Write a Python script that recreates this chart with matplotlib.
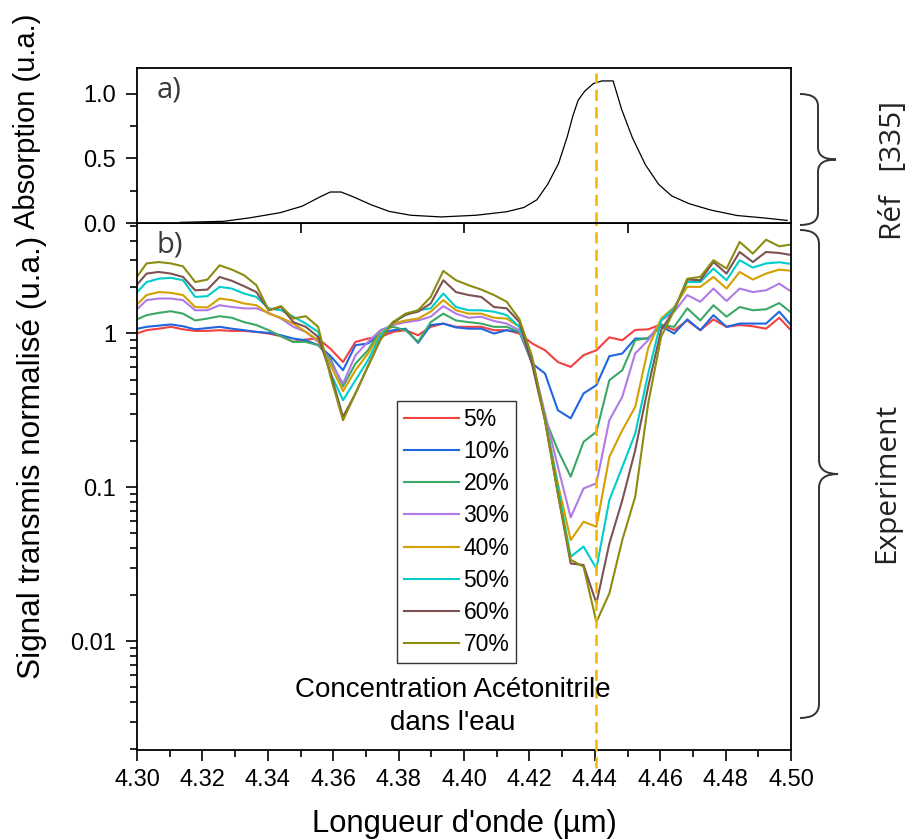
import matplotlib
matplotlib.use("Agg")
import matplotlib.pyplot as plt
import numpy as np
from matplotlib.path import Path
from matplotlib.patches import PathPatch
from matplotlib.ticker import MultipleLocator, LogLocator, NullFormatter, FixedLocator

# ---- data ----
# sampling of the measured spectra: 2 cm-1 steps, converted to µm
wavenumber = np.array([
    2326, 2324, 2322, 2320, 2318, 2316, 2314, 2312, 2310, 2308,
    2306, 2304, 2302, 2300, 2298, 2296, 2294, 2292, 2290, 2288,
    2286, 2284, 2282, 2280, 2278, 2276, 2274, 2272, 2270, 2268,
    2266, 2264, 2262, 2260, 2258, 2256, 2254, 2252, 2250, 2248,
    2246, 2244, 2242, 2240, 2238, 2236, 2234, 2232, 2230, 2228,
    2226, 2224, 2222,
])
wavelength = 1e4 / wavenumber

labels = ["5%", "10%", "20%", "30%", "40%", "50%", "60%", "70%"]
colors = ["#f54040", "#1f66e0", "#3ca865", "#b07ae6", "#d4a000",
          "#00cccc", "#7d5252", "#8c8c10"]

c05 = [0.985, 1.046, 1.07, 1.10, 1.06, 1.035, 1.035, 1.046, 1.035, 1.035,
       1.02, 0.995, 0.956, 0.878, 0.91, 0.923, 0.79, 0.65, 0.878, 0.923,
       0.946, 1.02, 1.046, 0.97, 1.10, 1.155, 1.10, 1.10, 1.10, 1.046,
       1.046, 0.995, 0.857, 0.775, 0.65, 0.604, 0.72, 0.775, 0.94, 0.90,
       1.05, 1.06, 1.14, 1.046, 1.21, 1.046, 1.23, 1.10, 1.13, 1.11,
       1.07, 1.26, 1.02]
c10 = [1.06, 1.10, 1.12, 1.14, 1.11, 1.06, 1.08, 1.10, 1.07, 1.046,
       1.02, 1.005, 0.97, 0.923, 0.90, 0.836, 0.71, 0.575, 0.836, 0.857,
       0.995, 1.046, 1.07, 0.865, 1.13, 1.155, 1.09, 1.07, 1.07, 0.995,
       1.046, 1.02, 0.635, 0.547, 0.316, 0.28, 0.406, 0.46, 0.709, 0.738,
       0.923, 0.923, 1.11, 0.995, 1.23, 1.046, 1.31, 1.10, 1.155, 1.155,
       1.155, 1.38, 1.10]
c20 = [1.21, 1.31, 1.355, 1.39, 1.34, 1.21, 1.245, 1.29, 1.26, 1.18,
       1.13, 1.046, 0.956, 0.878, 0.878, 0.836, 0.68, 0.45, 0.635, 0.775,
       1.046, 1.10, 1.046, 0.878, 1.18, 1.34, 1.21, 1.18, 1.155, 1.10,
       1.10, 1.02, 0.66, 0.28, 0.174, 0.117, 0.197, 0.229, 0.495, 0.575,
       0.90, 0.93, 1.13, 1.10, 1.45, 1.21, 1.52, 1.28, 1.48, 1.41,
       1.43, 1.57, 1.34]
c30 = [1.38, 1.64, 1.68, 1.68, 1.64, 1.41, 1.41, 1.52, 1.48, 1.45,
       1.45, 1.355, 1.245, 1.10, 1.02, 0.878, 0.65, 0.47, 0.72, 0.878,
       1.046, 1.13, 1.18, 1.21, 1.28, 1.50, 1.34, 1.26, 1.28, 1.20,
       1.155, 1.046, 0.66, 0.30, 0.136, 0.0636, 0.098, 0.106, 0.272, 0.386,
       0.74, 0.90, 1.21, 1.38, 1.77, 1.60, 1.95, 1.62, 1.95, 1.85,
       1.90, 2.10, 1.84]
c40 = [1.48, 1.77, 1.85, 1.83, 1.77, 1.48, 1.47, 1.68, 1.64, 1.56,
       1.52, 1.34, 1.26, 1.155, 1.02, 0.90, 0.62, 0.42, 0.575, 0.738,
       0.995, 1.155, 1.21, 1.245, 1.38, 1.64, 1.41, 1.34, 1.34, 1.26,
       1.245, 1.10, 0.64, 0.28, 0.106, 0.0453, 0.0596, 0.0553, 0.157, 0.234,
       0.332, 0.80, 1.245, 1.48, 2.00, 2.00, 2.32, 1.95, 2.50, 2.23,
       2.44, 2.59, 2.54]
c50 = [1.77, 2.15, 2.26, 2.29, 2.21, 1.72, 1.74, 2.00, 1.95, 1.81,
       1.72, 1.45, 1.41, 1.28, 1.155, 1.02, 0.55, 0.367, 0.495, 0.668,
       0.97, 1.18, 1.31, 1.41, 1.45, 1.81, 1.48, 1.41, 1.41, 1.38,
       1.31, 1.10, 0.65, 0.28, 0.10, 0.0353, 0.0411, 0.0296, 0.0824, 0.135,
       0.223, 0.547, 1.21, 1.45, 2.15, 2.15, 2.63, 2.21, 2.98, 2.67,
       2.84, 2.89, 2.81]
c60 = [1.98, 2.44, 2.50, 2.44, 2.32, 1.90, 1.92, 2.32, 2.19, 2.02,
       1.85, 1.41, 1.48, 1.18, 1.10, 0.946, 0.55, 0.286, 0.406, 0.61,
       0.91, 1.17, 1.32, 1.38, 1.56, 2.21, 1.85, 1.77, 1.72, 1.48,
       1.45, 1.18, 0.62, 0.27, 0.091, 0.0319, 0.0312, 0.0176, 0.043, 0.082,
       0.174, 0.45, 1.05, 1.41, 2.23, 2.21, 2.90, 2.44, 3.37, 2.90,
       3.37, 3.32, 3.21]
c70 = [2.21, 2.84, 2.90, 2.84, 2.72, 2.15, 2.23, 2.76, 2.59, 2.38,
       2.05, 1.41, 1.50, 1.245, 1.29, 1.10, 0.52, 0.272, 0.406, 0.61,
       0.91, 1.18, 1.34, 1.41, 1.72, 2.54, 2.21, 2.05, 1.92, 1.77,
       1.60, 1.23, 0.70, 0.27, 0.091, 0.0337, 0.0304, 0.0133, 0.0204, 0.0453,
       0.0866, 0.35, 0.95, 1.41, 2.26, 2.32, 2.98, 2.63, 3.92, 3.29,
       4.05, 3.67, 3.78]
series = [c05, c10, c20, c30, c40, c50, c60, c70]

# reference absorption spectrum (panel a)
ref_wl = [4.3132, 4.3265, 4.3345, 4.3438, 4.3505, 4.3558, 4.3591, 4.3624,
          4.3664, 4.3717, 4.3771, 4.3837, 4.3930, 4.4037, 4.4130, 4.4183,
          4.4223, 4.4256, 4.4289, 4.4316, 4.4333, 4.4349, 4.4369, 4.4396,
          4.4422, 4.4456, 4.4482, 4.4515, 4.4555, 4.4595, 4.4635, 4.4688,
          4.4755, 4.4835, 4.4914, 4.4988]
ref_abs = [0.005, 0.013, 0.04, 0.08, 0.13, 0.20, 0.24, 0.24,
           0.20, 0.14, 0.09, 0.06, 0.047, 0.06, 0.087, 0.12,
           0.18, 0.30, 0.46, 0.67, 0.83, 0.95, 1.02, 1.08,
           1.10, 1.10, 0.88, 0.66, 0.45, 0.30, 0.21, 0.15,
           0.10, 0.058, 0.04, 0.02]

peak_line = 4.4405

W, H = 917, 840
SANS = ["Liberation Sans", "DejaVu Sans"]
SEGOE = ["Open Sans", "DejaVu Sans"]
plt.rcParams["font.family"] = SANS


def px(x, y):
    return (x / W, 1 - y / H)


def brace(fig, x0, y_top, y_bot, x_tip, r=14, lw=1.4):
    # curly brace opening to the left, drawn in pixel coords
    xm = x0 + (x_tip - x0) * 0.5
    ym = (y_top + y_bot) / 2
    pts = [(x0, y_top), (xm, y_top), (xm, y_top + r),
           (xm, ym - r), (xm, ym), (x_tip, ym),
           (xm, ym), (xm, ym + r),
           (xm, y_bot - r), (xm, y_bot), (x0, y_bot)]
    codes = [Path.MOVETO, Path.CURVE3, Path.CURVE3,
             Path.LINETO, Path.CURVE3, Path.CURVE3,
             Path.CURVE3, Path.CURVE3,
             Path.LINETO, Path.CURVE3, Path.CURVE3]
    verts = [px(*p) for p in pts]
    fig.patches.append(PathPatch(Path(verts, codes), transform=fig.transFigure,
                                 fill=False, lw=lw, edgecolor="#333333"))


fig = plt.figure(figsize=(W / 100, H / 100), dpi=100)
ax_a = fig.add_axes([137 / W, 1 - 223 / H, (791 - 137) / W, (223 - 68) / H])
ax_b = fig.add_axes([137 / W, 1 - 750 / H, (791 - 137) / W, (750 - 223) / H])
ax_a.set_zorder(3)

for ax in (ax_a, ax_b):
    for sp in ax.spines.values():
        sp.set_linewidth(1.3)
    ax.tick_params(which="both", direction="out", width=1.2, labelsize=17,
                   colors="black")
    ax.tick_params(which="major", length=8)
    ax.tick_params(which="minor", length=5)
    ax.set_xlim(4.30, 4.50)

# ---- panel a: reference absorption ----
ax_a.plot(ref_wl, ref_abs, color="black", lw=0.9)
ax_a.set_ylim(0, 1.2)
ax_a.yaxis.set_major_locator(FixedLocator([0.0, 0.5, 1.0]))
ax_a.yaxis.set_minor_locator(FixedLocator([0.25, 0.75]))
ax_a.set_yticklabels(["0.0", "0.5", "1.0"])
ax_a.xaxis.set_major_locator(FixedLocator([4.35, 4.40, 4.45]))
ax_a.tick_params(axis="x", labelbottom=False, length=7)
ax_a.tick_params(axis="y", pad=7)
ax_a.axvline(peak_line, ymin=0, ymax=0.97, color="#f7b500", lw=1.8,
             dashes=(4.5, 2.5))
ax_a.text(0.03, 0.86, "a)", transform=ax_a.transAxes, fontsize=21,
          family=SEGOE, color="#3a3a3a", va="center")

# ---- panel b: measured transmission ----
for vals, lab, col in zip(series, labels, colors):
    ax_b.plot(wavelength, vals, color=col, lw=1.5, label=lab)
ax_b.set_yscale("log")
ax_b.set_ylim(0.00196, 5.2)
ax_b.yaxis.set_major_locator(FixedLocator([0.01, 0.1, 1]))
ax_b.set_yticklabels(["0.01", "0.1", "1"])
ax_b.yaxis.set_minor_locator(LogLocator(base=10, subs=np.arange(2, 10)))
ax_b.yaxis.set_minor_formatter(NullFormatter())
ax_b.xaxis.set_major_locator(MultipleLocator(0.02))
ax_b.xaxis.set_minor_locator(MultipleLocator(0.01))
ax_b.xaxis.set_major_formatter(plt.FormatStrFormatter("%.2f"))
ax_b.tick_params(axis="y", pad=7)
ax_b.tick_params(axis="x", pad=6)
ax_b.axvline(peak_line, ymin=-0.035, ymax=1, color="#f7b500", lw=1.8,
             dashes=(4.5, 2.5), clip_on=False, zorder=5)
ax_b.text(0.03, 0.958, "b)", transform=ax_b.transAxes, fontsize=21,
          family=SEGOE, color="#3a3a3a", va="center")

leg = ax_b.legend(loc="upper left", bbox_to_anchor=px(397, 401),
                  bbox_transform=fig.transFigure, borderaxespad=0,
                  frameon=True, fancybox=False, edgecolor="black",
                  fontsize=16.5, handlelength=2.4, labelspacing=0.4,
                  handletextpad=0.2, borderpad=0.3)
leg.get_frame().set_linewidth(1.0)

fig.text(*px(453, 690), "Concentration Acétonitrile", ha="center",
         va="center", fontsize=20)
fig.text(*px(453, 723), "dans l'eau", ha="center", va="center", fontsize=20)

# axis labels
fig.text(*px(464, 824), "Longueur d'onde (µm)", ha="center", va="center",
         fontsize=22.3)
fig.text(*px(27, 121), "Absorption (u.a.)", ha="center", va="center",
         rotation=90, fontsize=21)
fig.text(*px(32, 457), "Signal transmis normalisé (u.a.)", ha="center",
         va="center", rotation=90, fontsize=22.7)

# braces and side labels
brace(fig, 800, 94, 225, 836, r=12)
brace(fig, 800, 230, 718, 838, r=14)
fig.text(*px(893, 171), "Réf   [335]", ha="center", va="center",
         rotation=90, fontsize=21.5, family=SEGOE, color="#222222")
fig.text(*px(887, 483), "Experiment", ha="center", va="center",
         rotation=90, fontsize=21.5, family=SEGOE, color="#222222")

fig.savefig("out.png", dpi=100)
